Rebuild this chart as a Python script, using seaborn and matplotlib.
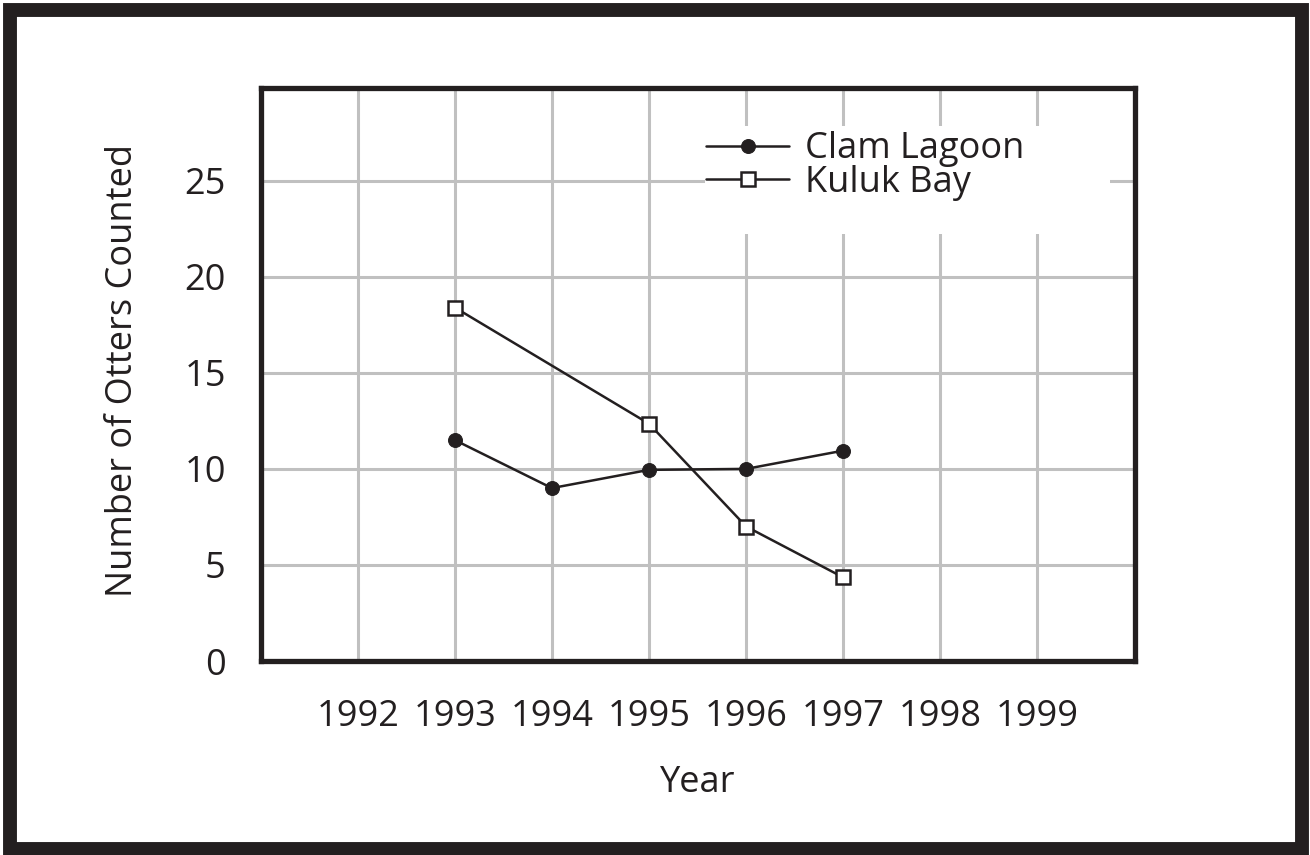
import pandas as pd
import seaborn as sns
import matplotlib.pyplot as plt
from matplotlib.patches import Rectangle

# Data
clam_years = [1993, 1994, 1995, 1996, 1997]
clam_counts = [11.5, 9.0, 9.95, 10.0, 10.95]
kuluk_years = [1993, 1995, 1996, 1997]
kuluk_counts = [18.4, 12.35, 7.0, 4.35]
year_ticks = [1991, 1992, 1993, 1994, 1995, 1996, 1997, 1998, 1999]
year_labels = ["", "1992", "1993", "1994", "1995", "1996", "1997", "1998", "1999"]
count_ticks = [0, 5, 10, 15, 20, 25]

ink = "#231f20"
grid_col = "#c0c0c0"

sns.set_style("white")
plt.rcParams["font.family"] = ["Open Sans", "DejaVu Sans"]

clam = pd.DataFrame({"Year": clam_years, "Count": clam_counts})
kuluk = pd.DataFrame({"Year": kuluk_years, "Count": kuluk_counts})

fig = plt.figure(figsize=(13.1, 8.55), dpi=100)
ax = fig.add_axes([0.1989, 0.2269, 0.6672, 0.6696])

sns.lineplot(data=clam, x="Year", y="Count", ax=ax, color=ink, lw=1.8,
             marker="o", markersize=10, markeredgecolor=ink, markerfacecolor=ink,
             label="Clam Lagoon", zorder=5)
sns.lineplot(data=kuluk, x="Year", y="Count", ax=ax, color=ink, lw=1.8,
             marker="s", markersize=10, markeredgewidth=1.8, markeredgecolor=ink,
             markerfacecolor="white", label="Kuluk Bay", zorder=5)

ax.set_xlim(1991, 2000)
ax.set_ylim(0, 29.8)
ax.set_xticks(year_ticks)
ax.set_xticklabels(year_labels)
ax.set_yticks(count_ticks)

ax.grid(True, color=grid_col, lw=2.2, zorder=0)
ax.set_axisbelow(True)
ax.tick_params(axis="both", which="major", direction="out", color=grid_col,
               width=2.2, labelsize=26, labelcolor=ink)
ax.tick_params(axis="x", length=12, pad=15)
ax.tick_params(axis="y", length=13, pad=12)
ax.xaxis.get_major_ticks()[0].tick1line.set_color(ink)
ax.yaxis.get_major_ticks()[0].tick1line.set_color(ink)
ax.xaxis.get_major_ticks()[0].tick1line.set_markeredgewidth(3.6)
ax.yaxis.get_major_ticks()[0].tick1line.set_markeredgewidth(2.2)

for s in ax.spines.values():
    s.set_color(ink)
    s.set_linewidth(3.8)
    s.set_zorder(6)

ax.set_xlabel("Year", fontsize=26, color=ink)
ax.set_ylabel("Number of Otters Counted", fontsize=26, color=ink)
ax.xaxis.set_label_coords(0.5, -0.182)
ax.yaxis.set_label_coords(-0.137, 0.507)

# white patch behind the legend hides the grid
ax.add_patch(Rectangle((0.5087, 0.745), 0.4634, 0.19, transform=ax.transAxes,
                       facecolor="white", edgecolor="none", zorder=2))
ax.legend(loc="center left", bbox_to_anchor=(0.4725, 0.8646), frameon=False,
          fontsize=26, handlelength=2.3, handletextpad=0.45, labelspacing=-0.08,
          labelcolor=ink)

fig.patches.append(Rectangle((10 / 1310, 6.5 / 855), 1291.5 / 1310, 838.5 / 855,
                             transform=fig.transFigure, fill=False,
                             edgecolor=ink, lw=10))

plt.savefig("out.png", dpi=100)
plt.close()
